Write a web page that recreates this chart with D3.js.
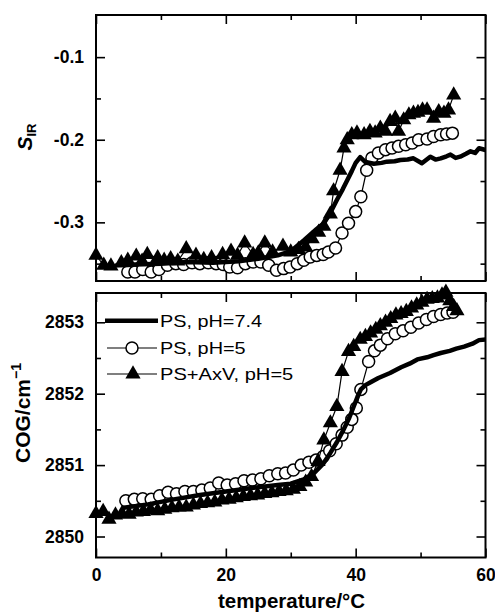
<!DOCTYPE html>
<html>
<head>
<meta charset="utf-8">
<script src="https://cdn.jsdelivr.net/npm/d3@7"></script>
<style>
  body { margin: 0; background: #fff; }
  text { font-family: "Liberation Sans", Arial, sans-serif; fill: #000; }
</style>
</head>
<body>
<svg id="chart" width="495" height="613"></svg>
<script>
// x axis (shared)
var tempMajor = [0, 20, 40, 60];
var tempMinor = [10, 30, 50];

// top panel: S_IR
var sirMajor = [-0.1, -0.2, -0.3];
var sirMinor = [-0.15, -0.25, -0.35];

var sirPs74T = [3, 6, 10, 14, 18, 22, 25, 28, 30, 32, 34, 35.1, 36, 37.1, 38, 38.7, 39.4, 40, 40.7, 41.5, 42.8, 44, 44.8, 46, 46.9, 48, 48.9, 50.2, 51.5, 52.3, 53.1, 54, 54.6, 55.4, 56.1, 57, 57.7, 58.4, 59, 60];
var sirPs74 = [-0.352, -0.351, -0.350, -0.348, -0.349, -0.347, -0.344, -0.340, -0.335, -0.322, -0.308, -0.301, -0.290, -0.273, -0.260, -0.249, -0.238, -0.228, -0.221, -0.227, -0.229, -0.228, -0.2265, -0.226, -0.2245, -0.224, -0.2225, -0.2285, -0.2205, -0.224, -0.2225, -0.220, -0.218, -0.222, -0.2205, -0.217, -0.214, -0.216, -0.2103, -0.2124];

var sirPs5T = [4.9, 6, 7.2, 8.5, 9.7, 11, 12.3, 13.5, 14.8, 16, 17.3, 18.5, 19.6, 20.6, 21.8, 23, 24.2, 25.4, 26.6, 27.8, 28.9, 29.9, 31, 32, 33, 34, 35, 35.8, 36.9, 37.9, 38.9, 40, 40.8, 41.7, 42.5, 43.5, 44.6, 45.6, 46.6, 47.7, 48.7, 49.7, 51, 52, 53.1, 54, 54.9];
var sirPs5 = [-0.360, -0.360, -0.357, -0.360, -0.357, -0.352, -0.350, -0.351, -0.349, -0.350, -0.349, -0.350, -0.351, -0.354, -0.355, -0.350, -0.348, -0.348, -0.352, -0.358, -0.356, -0.354, -0.350, -0.346, -0.342, -0.340, -0.339, -0.336, -0.331, -0.313, -0.301, -0.287, -0.269, -0.237, -0.222, -0.216, -0.212, -0.210, -0.208, -0.206, -0.204, -0.200, -0.199, -0.196, -0.194, -0.193, -0.192];

var sirAxvT = [0, 1.2, 2.3, 3.9, 4.9, 6.2, 7.1, 7.9, 9.5, 10.5, 11.5, 12.6, 13.9, 15.4, 16.6, 17.8, 19.5, 20.8, 21.8, 22.9, 24.2, 25, 26, 27.2, 28.8, 30, 31.2, 32.3, 33.3, 34.3, 35.1, 36.1, 36.6, 37.6, 38.2, 38.7, 39.4, 40.2, 41.3, 42.2, 43, 43.8, 44.6, 45.3, 46.1, 46.6, 47.4, 48.2, 48.9, 49.6, 50.3, 51, 52, 52.8, 53.6, 54.3, 55.1];
var sirAxv = [-0.340, -0.352, -0.353, -0.349, -0.346, -0.341, -0.347, -0.339, -0.343, -0.346, -0.344, -0.347, -0.332, -0.340, -0.345, -0.343, -0.339, -0.335, -0.340, -0.325, -0.339, -0.337, -0.325, -0.336, -0.329, -0.336, -0.333, -0.330, -0.320, -0.312, -0.305, -0.290, -0.262, -0.237, -0.210, -0.200, -0.194, -0.192, -0.194, -0.190, -0.192, -0.186, -0.190, -0.178, -0.174, -0.190, -0.176, -0.170, -0.168, -0.167, -0.164, -0.164, -0.174, -0.166, -0.168, -0.164, -0.146];

// bottom panel: COG
var cogMajor = [2850, 2851, 2852, 2853];
var cogMinor = [2850.5, 2851.5, 2852.5];

var cogPs74T = [4, 8, 12, 16, 20, 24, 28, 30, 32, 33.5, 35, 36.1, 37.1, 38.1, 39, 39.7, 40.3, 40.8, 41.5, 42.3, 43.5, 45.3, 47, 48.3, 49.5, 51, 52, 53.1, 54.5, 55.5, 56.7, 58, 59, 60];
var cogPs74 = [2850.40, 2850.45, 2850.52, 2850.58, 2850.63, 2850.68, 2850.72, 2850.74, 2850.80, 2850.88, 2851.02, 2851.17, 2851.32, 2851.49, 2851.66, 2851.82, 2851.96, 2852.06, 2852.12, 2852.16, 2852.22, 2852.29, 2852.37, 2852.42, 2852.48, 2852.51, 2852.54, 2852.57, 2852.60, 2852.63, 2852.66, 2852.70, 2852.75, 2852.76];

var cogPs5T = [4.6, 5.9, 7.2, 8.5, 9.8, 11.1, 12.4, 13.7, 15, 16.3, 17.6, 18.9, 20.2, 21.5, 22.8, 24.1, 25.4, 26.7, 28, 29.2, 30.4, 31.6, 32.8, 33.9, 35, 36, 37, 37.9, 38.7, 39.4, 40.1, 40.8, 42, 42.9, 43.8, 44.9, 46.1, 47.3, 48.5, 49.7, 50.9, 52, 53.1, 54.1, 55];
var cogPs5 = [2850.50, 2850.52, 2850.53, 2850.52, 2850.57, 2850.62, 2850.60, 2850.63, 2850.63, 2850.65, 2850.68, 2850.75, 2850.72, 2850.74, 2850.78, 2850.79, 2850.81, 2850.85, 2850.88, 2850.89, 2850.93, 2851.00, 2851.04, 2851.07, 2851.12, 2851.20, 2851.30, 2851.42, 2851.53, 2851.64, 2851.80, 2852.06, 2852.45, 2852.60, 2852.68, 2852.77, 2852.84, 2852.88, 2852.93, 2852.99, 2853.04, 2853.08, 2853.11, 2853.13, 2853.14];

var cogAxvT = [0, 1.1, 2, 3, 4, 5.1, 6.2, 7.3, 8.4, 9.5, 10.6, 11.7, 12.8, 13.9, 15, 16.1, 17.2, 18.3, 19.4, 20.5, 21.6, 22.7, 23.8, 24.9, 26, 27.1, 28.2, 29.3, 30.4, 31.4, 32.3, 33.2, 34.2, 35.1, 36.1, 37.1, 37.9, 38.9, 39.7, 40.7, 41.5, 42.3, 43.1, 43.8, 44.6, 45.4, 46.2, 47, 47.8, 48.6, 49.4, 50.2, 51, 51.8, 52.6, 53.3, 53.9, 54.5, 55.1, 55.6];
var cogAxv = [2850.32, 2850.35, 2850.24, 2850.30, 2850.32, 2850.31, 2850.34, 2850.35, 2850.37, 2850.36, 2850.38, 2850.40, 2850.41, 2850.41, 2850.44, 2850.46, 2850.47, 2850.48, 2850.51, 2850.52, 2850.54, 2850.56, 2850.57, 2850.58, 2850.60, 2850.61, 2850.63, 2850.64, 2850.66, 2850.70, 2850.76, 2850.84, 2851.05, 2851.35, 2851.59, 2851.82, 2852.31, 2852.59, 2852.66, 2852.76, 2852.80, 2852.85, 2852.90, 2852.95, 2853.00, 2853.05, 2853.10, 2853.12, 2853.15, 2853.20, 2853.24, 2853.28, 2853.32, 2853.33, 2853.34, 2853.38, 2853.42, 2853.30, 2853.22, 2853.16];

var legendLabels = ["PS, pH=7.4", "PS, pH=5", "PS+AxV, pH=5"];

var svg = d3.select("#chart");
var left = 96, right = 485.5;

var x = d3.scaleLinear().domain([0, 60]).range([left, right]);
var ySir = d3.scaleLinear().domain([-0.371, -0.049]).range([281, 15]);
var yCog = d3.scaleLinear().domain([2849.706, 2853.41]).range([557.5, 293]);

var triangle = d3.symbol().type(d3.symbolTriangle).size(100);
var circleR = 6;

function zip(ts, vs) {
  return ts.map(function(t, i) { return [t, vs[i]]; });
}

function drawFrame(y, top, bottom, major, minor, fmt, xLabels) {
  var g = svg.append("g");
  // tick helper: inward ticks, labels only on left/bottom
  function ax(axis, tr, values, size, labels) {
    var a = axis.tickValues(values).tickSize(-size).tickPadding(12)
      .tickFormat(labels ? labels : "");
    var s = g.append("g").attr("transform", tr).call(a);
    s.select(".domain").remove();
    s.selectAll("line").attr("stroke", "#000").attr("stroke-width", 1.6);
    return s;
  }
  var yl = ax(d3.axisLeft(y), "translate(" + left + ",0)", major, 9, fmt);
  ax(d3.axisLeft(y), "translate(" + left + ",0)", minor, 5);
  ax(d3.axisRight(y), "translate(" + right + ",0)", major, 9);
  ax(d3.axisRight(y), "translate(" + right + ",0)", minor, 5);
  var xl = ax(d3.axisBottom(x), "translate(0," + bottom + ")", tempMajor, 9,
    xLabels ? d3.format("d") : null);
  ax(d3.axisBottom(x), "translate(0," + bottom + ")", tempMinor, 5);
  ax(d3.axisTop(x), "translate(0," + top + ")", tempMajor, 9);
  ax(d3.axisTop(x), "translate(0," + top + ")", tempMinor, 5);

  yl.selectAll("text").attr("font-size", 17.5).attr("font-weight", "bold")
    .attr("font-family", "Liberation Sans, Arial, sans-serif").attr("x", -12);
  xl.selectAll("text").attr("font-size", 17.5).attr("font-weight", "bold")
    .attr("font-family", "Liberation Sans, Arial, sans-serif").attr("y", 11).attr("dy", "0.71em");

  g.append("rect").attr("x", left).attr("y", top)
    .attr("width", right - left).attr("height", bottom - top)
    .attr("fill", "none").attr("stroke", "#000").attr("stroke-width", 2);
}

function drawSeries(y, ps74, ps5, axv) {
  var line = d3.line().x(function(d) { return x(d[0]); }).y(function(d) { return y(d[1]); });
  var g = svg.append("g");
  g.append("path").datum(ps5).attr("d", line)
    .attr("fill", "none").attr("stroke", "#000").attr("stroke-width", 1.2);
  g.selectAll(".c").data(ps5).enter().append("circle")
    .attr("cx", function(d) { return x(d[0]); })
    .attr("cy", function(d) { return y(d[1]); })
    .attr("r", circleR).attr("fill", "#fff").attr("stroke", "#000").attr("stroke-width", 1.5);
  g.append("path").datum(ps74).attr("d", line)
    .attr("fill", "none").attr("stroke", "#000").attr("stroke-width", 4.5)
    .attr("stroke-linejoin", "round");
  g.append("path").datum(axv).attr("d", line)
    .attr("fill", "none").attr("stroke", "#000").attr("stroke-width", 1.2);
  g.selectAll(".t").data(axv).enter().append("path")
    .attr("d", triangle)
    .attr("transform", function(d) { return "translate(" + x(d[0]) + "," + y(d[1]) + ")"; })
    .attr("fill", "#000");
}

// plain hyphen for negative tick labels, as in the original
var sirFmt = function(d) { return d.toFixed(1); };

drawFrame(ySir, 15, 281, sirMajor, sirMinor, sirFmt, false);
drawFrame(yCog, 293, 557.5, cogMajor, cogMinor, d3.format("d"), true);

drawSeries(ySir, zip(sirPs74T, sirPs74), zip(sirPs5T, sirPs5), zip(sirAxvT, sirAxv));
drawSeries(yCog, zip(cogPs74T, cogPs74), zip(cogPs5T, cogPs5), zip(cogAxvT, cogAxv));

// legend
var lg = svg.append("g");
var rows = [320.7, 348, 374];
lg.append("line").attr("x1", 105).attr("x2", 158).attr("y1", rows[0]).attr("y2", rows[0])
  .attr("stroke", "#000").attr("stroke-width", 4.5);
lg.append("line").attr("x1", 107).attr("x2", 157).attr("y1", rows[1]).attr("y2", rows[1])
  .attr("stroke", "#000").attr("stroke-width", 1.2);
lg.append("circle").attr("cx", 132).attr("cy", rows[1]).attr("r", circleR)
  .attr("fill", "#fff").attr("stroke", "#000").attr("stroke-width", 1.5);
lg.append("line").attr("x1", 107).attr("x2", 157).attr("y1", rows[2]).attr("y2", rows[2])
  .attr("stroke", "#000").attr("stroke-width", 1.2);
lg.append("path").attr("d", triangle).attr("transform", "translate(133," + rows[2] + ")");
var legendWidths = [102, 85.7, 133.3];
legendLabels.forEach(function(s, i) {
  lg.append("text").attr("x", 160).attr("y", rows[i]).attr("dy", "0.36em")
    .attr("font-size", 17).attr("textLength", legendWidths[i])
    .attr("lengthAdjust", "spacingAndGlyphs").text(s);
});

// axis titles
var sl = svg.append("text").attr("transform", "translate(31.5,137) rotate(-90)")
  .attr("text-anchor", "middle").attr("font-size", 21).attr("font-weight", "bold");
sl.append("tspan").attr("font-style", "italic").text("S");
sl.append("tspan").attr("font-size", 13).attr("dy", 4).text("IR");

var cl = svg.append("text").attr("transform", "translate(30,413) rotate(-90)")
  .attr("text-anchor", "middle").attr("font-size", 21).attr("font-weight", "bold");
cl.append("tspan").text("COG/cm");
cl.append("tspan").attr("font-size", 14).attr("dy", -9).text("\u22121");

svg.append("text").attr("x", 291.5).attr("y", 608).attr("text-anchor", "middle")
  .attr("font-size", 20.5).attr("font-weight", "bold").text("temperature/\u00b0C");
</script>
</body>
</html>
